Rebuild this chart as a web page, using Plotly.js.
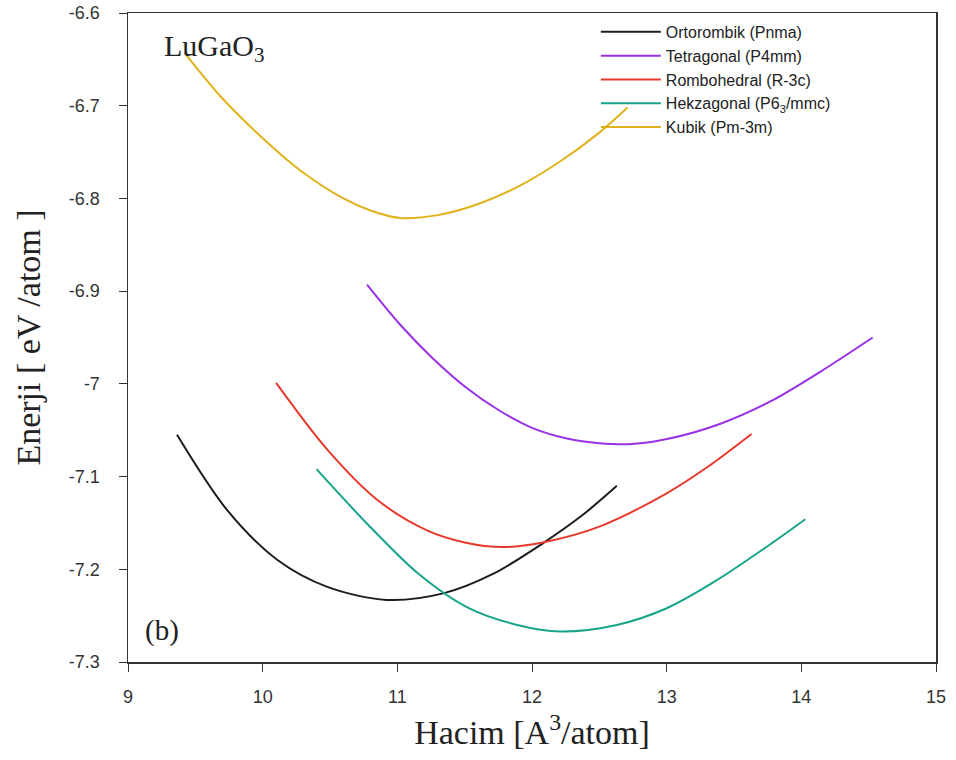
<!DOCTYPE html>
<html>
<head>
<meta charset="utf-8">
<script src="https://cdn.plot.ly/plotly-3.0.1.min.js"></script>
<style>html,body{margin:0;padding:0;background:#fff;}#chart{width:956px;height:760px;}</style>
</head>
<body>
<div id="chart"></div>
<script>
// Series names
const names = [
  "Ortorombik (Pnma)",
  "Tetragonal (P4mm)",
  "Rombohedral (R-3c)",
  "Hekzagonal (P6<sub>3</sub>/mmc)",
  "Kubik (Pm-3m)"
];

// Ortorombik (Pnma)
const ortoX = [9.364, 9.735, 10.11, 10.48, 10.92, 11.34, 11.71, 12.08, 12.38, 12.63];
const ortoY = [-7.055, -7.136, -7.190, -7.219, -7.233, -7.226, -7.205, -7.172, -7.141, -7.110];

// Tetragonal (P4mm)
const tetraX = [10.775, 11.02, 11.26, 11.52, 11.76, 12.01, 12.26, 12.50, 12.74, 13.02, 13.40, 13.77, 14.14, 14.53];
const tetraY = [-6.893, -6.936, -6.972, -7.005, -7.029, -7.048, -7.059, -7.064, -7.065, -7.059, -7.043, -7.019, -6.987, -6.950];

// Rombohedral (R-3c)
const romboX = [10.10, 10.48, 10.85, 11.22, 11.50, 11.78, 12.08, 12.50, 13.00, 13.30, 13.63];
const romboY = [-6.999, -7.071, -7.125, -7.158, -7.171, -7.176, -7.171, -7.154, -7.118, -7.090, -7.054];

// Hekzagonal (P6_3/mmc)
const hekzaX = [10.40, 10.77, 11.15, 11.52, 11.89, 12.21, 12.63, 13.00, 13.37, 13.74, 14.03];
const hekzaY = [-7.092, -7.150, -7.204, -7.241, -7.260, -7.267, -7.260, -7.242, -7.212, -7.176, -7.146];

// Kubik (Pm-3m)
const kubikX = [9.42, 9.70, 10.00, 10.30, 10.60, 10.80, 11.02, 11.30, 11.60, 11.90, 12.20, 12.50, 12.71];
const kubikY = [-6.643, -6.692, -6.735, -6.772, -6.800, -6.813, -6.821, -6.818, -6.806, -6.787, -6.761, -6.729, -6.702];

// Axis ticks
const xTicks = [9, 10, 11, 12, 13, 14, 15];
const xTickText = ["9", "10", "11", "12", "13", "14", "15"];
const yTicks = [-6.6, -6.7, -6.8, -6.9, -7.0, -7.1, -7.2, -7.3];
const yTickText = ["-6.6", "-6.7", "-6.8", "-6.9", "-7", "-7.1", "-7.2", "-7.3"];

const colors = ["#1c1c1c", "#9932e6", "#e8392d", "#17a589", "#e0b21a"];
const xs = [ortoX, tetraX, romboX, hekzaX, kubikX];
const ys = [ortoY, tetraY, romboY, hekzaY, kubikY];

const traces = names.map((n, i) => ({
  x: xs[i], y: ys[i], name: n, type: "scatter", mode: "lines",
  line: {color: colors[i], width: 2, shape: "spline", smoothing: 0.9}
}));

const axisCommon = {
  showline: true, mirror: true, linecolor: "#333", linewidth: 1.5,
  ticks: "outside", ticklen: 8, tickcolor: "#333", tickwidth: 1,
  showgrid: false, zeroline: false,
  tickfont: {family: "Liberation Sans, Arial, sans-serif", size: 18, color: "#333"}
};

const layout = {
  width: 956, height: 760,
  margin: {l: 128, r: 20, t: 13, b: 98},
  paper_bgcolor: "#fff", plot_bgcolor: "#fff",
  xaxis: Object.assign({}, axisCommon, {
    range: [9, 15], tickvals: xTicks, ticktext: xTickText, ticklabelstandoff: 10,
    title: {text: "Hacim [A<sup>3</sup>/atom]", standoff: 14,
      font: {family: "Liberation Serif, Times New Roman, serif", size: 34, color: "#222"}}
  }),
  yaxis: Object.assign({}, axisCommon, {
    range: [-7.3, -6.6], tickvals: yTicks, ticktext: yTickText, ticklabelstandoff: 15,
    title: {text: "Enerji [ eV /atom ]", standoff: 18,
      font: {family: "Liberation Serif, Times New Roman, serif", size: 34, color: "#222"}}
  }),
  showlegend: true,
  legend: {
    x: 0.579, y: 0.997, xanchor: "left", yanchor: "top",
    bgcolor: "rgba(0,0,0,0)", borderwidth: 0, tracegroupgap: 0,
    font: {family: "Liberation Sans, Arial, sans-serif", size: 16, color: "#222"},
    itemwidth: 60
  },
  annotations: [
    {text: "LuGaO<sub>3</sub>", xref: "paper", yref: "paper", x: 0.042, y: 0.979,
     xanchor: "left", yanchor: "top", showarrow: false,
     font: {family: "Liberation Serif, Times New Roman, serif", size: 30, color: "#222"}},
    {text: "(b)", xref: "paper", yref: "paper", x: 0.018, y: 0.02,
     xanchor: "left", yanchor: "bottom", showarrow: false,
     font: {family: "Liberation Serif, Times New Roman, serif", size: 29, color: "#222"}}
  ]
};

Plotly.newPlot("chart", traces, layout, {displayModeBar: false, staticPlot: true});
</script>
</body>
</html>
